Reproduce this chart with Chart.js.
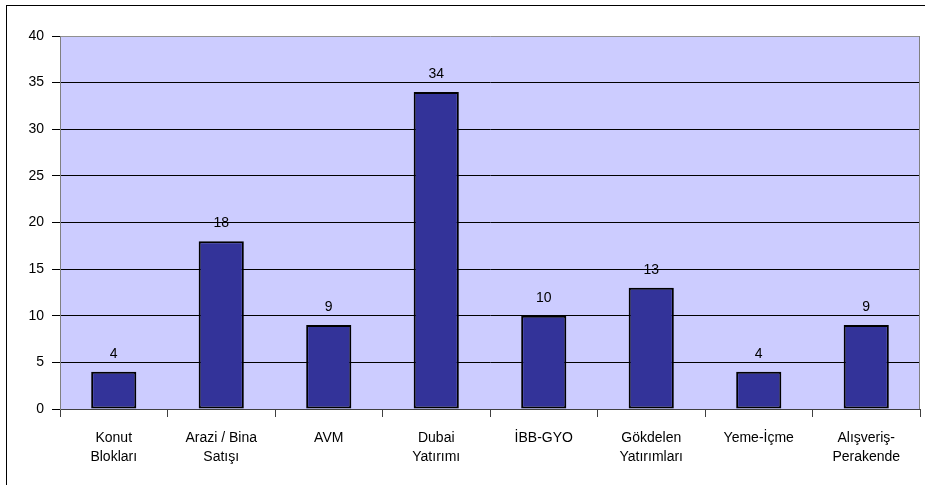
<html><head>
<meta charset="UTF-8">
<script src="https://cdn.jsdelivr.net/npm/chart.js"></script>
<style>
  html, body { margin: 0; padding: 0; background: #fff; }
  #wrap { width: 925px; height: 485px; position: relative; }
</style>
</head>
<body>
<div id="wrap"><canvas id="chart" width="925" height="485"></canvas></div>
<script>
const categories = [
  ['Konut', 'Blokları'],
  ['Arazi / Bina', 'Satışı'],
  'AVM',
  ['Dubai', 'Yatırımı'],
  'İBB-GYO',
  ['Gökdelen', 'Yatırımları'],
  'Yeme-İçme',
  ['Alışveriş-', 'Perakende']
];
const counts = [4, 18, 9, 34, 10, 13, 4, 9];
const yTicks = [0, 5, 10, 15, 20, 25, 30, 35, 40];

const FONT = 'Liberation Sans, Arial, sans-serif';

// lavender plot background, plot frame and the outer chart border
const frame = {
  id: 'frame',
  beforeDraw(chart) {
    const { ctx, chartArea: a } = chart;
    ctx.save();
    ctx.fillStyle = '#fff';
    ctx.fillRect(0, 0, chart.width, chart.height);
    ctx.fillStyle = '#ccccff';
    ctx.fillRect(a.left, a.top, a.right - a.left, a.bottom - a.top);
    ctx.strokeStyle = '#000';
    ctx.lineWidth = 1;
    ctx.strokeRect(6.5, 5.5, chart.width + 10, chart.height + 10);
    ctx.restore();
  },
  afterDatasetsDraw(chart) {
    const { ctx, chartArea: a } = chart;
    ctx.save();
    ctx.strokeStyle = '#808080';
    ctx.lineWidth = 1;
    ctx.beginPath();
    ctx.moveTo(Math.round(a.right) - 0.5, a.top);
    ctx.lineTo(Math.round(a.right) - 0.5, a.bottom);
    ctx.stroke();
    // value labels above each bar
    const meta = chart.getDatasetMeta(0);
    ctx.fillStyle = '#000';
    ctx.font = '14px ' + FONT;
    ctx.textAlign = 'center';
    ctx.textBaseline = 'alphabetic';
    meta.data.forEach((bar, i) => {
      ctx.fillText(String(counts[i]), bar.x, bar.y - 14);
    });
    ctx.restore();
  }
};

new Chart(document.getElementById('chart'), {
  type: 'bar',
  data: {
    labels: categories,
    datasets: [{
      data: counts,
      backgroundColor: '#333399',
      borderColor: '#000',
      borderWidth: 2,
      borderSkipped: false,
      categoryPercentage: 1,
      barPercentage: 0.42
    }]
  },
  options: {
    responsive: false,
    animation: false,
    devicePixelRatio: 1,
    layout: { padding: { top: 36, right: 5, left: 0, bottom: 0 } },
    plugins: { legend: { display: false }, tooltip: { enabled: false } },
    scales: {
      x: {
        offset: true,
        afterFit(s) { s.height = 76; },
        grid: {
          offset: true,
          drawOnChartArea: false,
          tickLength: 8,
          color: '#404040'
        },
        border: { color: '#404040', width: 1 },
        ticks: {
          color: '#000',
          font: { family: FONT, size: 14, lineHeight: 1.4 },
          padding: 11,
          maxRotation: 0,
          autoSkip: false
        }
      },
      y: {
        min: 0,
        max: 40,
        afterFit(s) { s.width = 60; },
        afterBuildTicks(s) { s.ticks = yTicks.map(v => ({ value: v })); },
        grid: {
          color: ctx => (ctx.tick && ctx.tick.value === 40 ? '#909090' : '#000'),
          tickColor: '#000',
          tickLength: 8,
          lineWidth: 1
        },
        border: { color: '#808080', width: 1 },
        ticks: {
          color: '#000',
          font: { family: FONT, size: 14 },
          padding: 8
        }
      }
    }
  },
  plugins: [frame]
});
</script>
</body></html>
